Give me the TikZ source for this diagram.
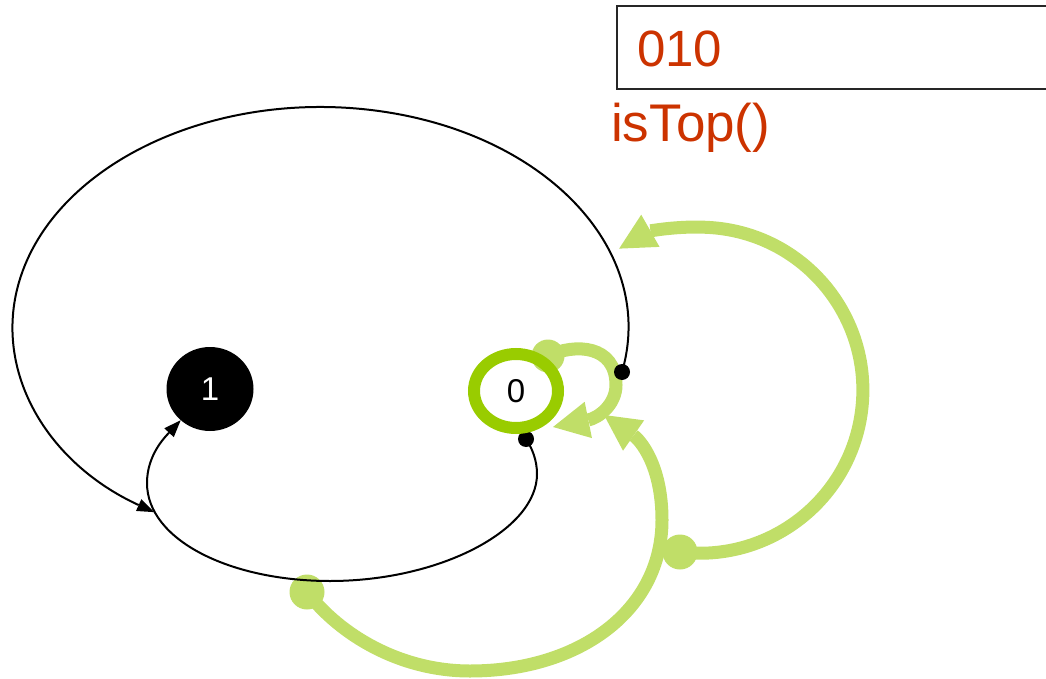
\documentclass[tikz,border=0pt]{standalone}
\usepackage{fontspec}
\setmainfont{Liberation Sans}
\usetikzlibrary{arrows.meta,shapes.geometric}
\definecolor{ringgreen}{RGB}{153,204,0}
\definecolor{hatchgreen}{RGB}{192,222,104}
\definecolor{codered}{RGB}{204,51,0}
\pgfdeclarelayer{bg}
\pgfsetlayers{bg,main}
\begin{document}
\begin{tikzpicture}[x=1pt,y=1pt,
  greenarrow/.style={draw=hatchgreen, line width=13pt,
    -{Triangle[length=36pt,width=37pt,line width=0pt]}},
  blob/.style={circle, fill=hatchgreen, inner sep=0pt, minimum size=35pt},
  blackcurve/.style={draw=black, line width=2pt,
    -{Triangle[length=17pt,width=13pt,line width=0pt]}},
  dotnode/.style={circle, fill=black, inner sep=0pt, minimum size=16pt},
  redtext/.style={anchor=base west, text=codered, inner sep=0pt}]
\useasboundingbox (0,0) rectangle (1046,-679);
\clip (0,0) rectangle (1046,-679);
% dots (under ring, over green)
\node[dotnode] (dotA) at (622,-372) {};
\node[dotnode] (dotB) at (526,-439) {};
% state nodes
\node[ellipse, fill=black, minimum width=87pt, minimum height=84pt, inner sep=0pt,
  text=white, font=\fontsize{33}{36}\selectfont] (n1) at (210,-389) {1};
\node[ellipse, draw=ringgreen, line width=12pt, minimum width=84pt, minimum height=74pt,
  inner sep=0pt, font=\fontsize{33}{36}\selectfont] (n0) at (516,-391) {0};
% text box
\draw[line width=2pt, draw=black!85] (617,-6) rectangle (1080,-89);
\node[redtext, font=\fontsize{51}{60}\selectfont] (code) at (637,-67) {010};
\node[redtext, font=\fontsize{53}{60}\selectfont] (method) at (611,-142) {isTop()};
\begin{pgfonlayer}{bg}
  % green arrows
  \node[blob, minimum size=33pt] (blobS) at (548,-356) {};
  \node[blob] (blobR) at (680,-552) {};
  \node[blob] (blobB) at (307,-592) {};
  \draw[greenarrow] (blobS.center) .. controls (575,-343) and (616,-345) .. (616,-385)
    .. controls (616,-405) and (598,-418) .. (553,-427);
  \draw[greenarrow] (blobR.center) arc[start angle=-97, end angle=119.7, radius=163pt];
  \draw[greenarrow] (blobB.center) .. controls (340,-635) and (400,-671) .. (470,-671)
    .. controls (580,-671) and (662,-610) .. (662,-520)
    .. controls (662,-465) and (640,-440) .. (604,-415);
  % black curves
  \draw[blackcurve] (dotA.center) arc[start angle=-11.8, end angle=237.3,
    x radius=308pt, y radius=220pt];
  \draw[blackcurve] (dotB.center) .. controls (532,-448) and (537,-460) .. (537,-474)
    .. controls (537,-530) and (440,-581) .. (330,-581)
    .. controls (230,-581) and (147,-540) .. (147,-483)
    .. controls (147,-455) and (165,-437) .. (n1);
\end{pgfonlayer}
\end{tikzpicture}
\end{document}
